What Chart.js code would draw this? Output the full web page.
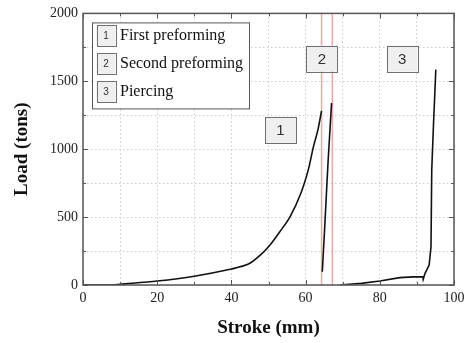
<!DOCTYPE html>
<html>
<head>
<meta charset="utf-8">
<script src="https://cdn.jsdelivr.net/npm/chart.js@4"></script>
<style>
  html, body { margin: 0; padding: 0; background: #fff; }
  #wrap { width: 464px; height: 343px; position: relative; }
</style>
</head>
<body>
<div id="wrap"><canvas id="loadChart"></canvas></div>
<script>
// Stroke (mm) / load (tons)
const firstX = [0, 8, 10, 20, 30, 40, 44.6, 48, 50.4, 53, 55.8, 58.7, 60.7, 62.1, 63.3, 64.3];
const firstY = [0, 0, 5, 29, 65, 118, 154, 225, 294, 390, 502, 674, 846, 1017, 1140, 1282];
const secondX = [64.5, 65.2, 66.0, 67.0];
const secondY = [98, 450, 880, 1340];
const piercingX = [69.3, 75, 80, 85.4, 89, 91.6, 91.7, 92.2, 93.3, 93.8, 94.0, 94.5, 95.1];
const piercingY = [0, 12, 29, 54, 60, 61, 42, 86, 147, 282, 846, 1200, 1586];

// red marker lines at stroke positions
const markerX = [64.3, 67.2];

// stage labels (number, stroke, load)
const stageNums = ['1', '2', '3'];
const stageX = [53.2, 64.4, 86];
const stageY = [1140, 1667, 1667];
const legendNames = ['First preforming', 'Second preforming', 'Piercing'];

const xTicks = [0, 20, 40, 60, 80, 100];
const yTicks = [0, 500, 1000, 1500, 2000];

const toPts = (xs, ys) => xs.map((x, i) => ({ x: x, y: ys[i] }));

const serif = '"Liberation Serif", "Times New Roman", serif';
const sans = '"Liberation Sans", Arial, sans-serif';

function drawTag(ctx, cx, cy, w, h, txt, size) {
    ctx.fillStyle = '#efefef';
    ctx.fillRect(cx - w / 2, cy - h / 2, w, h);
    ctx.strokeStyle = '#707070';
    ctx.lineWidth = 1;
    ctx.strokeRect(Math.round(cx - w / 2) + 0.5, Math.round(cy - h / 2) + 0.5, w, h);
    ctx.fillStyle = '#333';
    ctx.font = size + 'px ' + sans;
    ctx.textAlign = 'center';
    ctx.textBaseline = 'middle';
    ctx.fillText(txt, cx, cy + 1);
}

const extras = {
    id: 'extras',
    afterDatasetsDraw(chart) {
        const { ctx, chartArea: a, scales: { x, y } } = chart;
        ctx.save();
        // frame
        ctx.strokeStyle = '#555';
        ctx.lineWidth = 1.5;
        ctx.strokeRect(a.left, a.top, a.right - a.left, a.bottom - a.top);
        // inward ticks, major and minor
        ctx.lineWidth = 1;
        for (let v = 0; v <= 100; v += 10) {
            const px = Math.round(x.getPixelForValue(v)) + 0.5;
            const len = v % 20 === 0 ? 5 : 3;
            ctx.beginPath();
            ctx.moveTo(px, a.bottom); ctx.lineTo(px, a.bottom - len);
            ctx.moveTo(px, a.top); ctx.lineTo(px, a.top + len);
            ctx.stroke();
        }
        for (let v = 0; v <= 2000; v += 250) {
            const py = Math.round(y.getPixelForValue(v)) + 0.5;
            const len = v % 500 === 0 ? 5 : 3;
            ctx.beginPath();
            ctx.moveTo(a.left, py); ctx.lineTo(a.left + len, py);
            ctx.moveTo(a.right, py); ctx.lineTo(a.right - len, py);
            ctx.stroke();
        }
        // stage tags
        stageNums.forEach((n, i) => {
            drawTag(ctx, x.getPixelForValue(stageX[i]), y.getPixelForValue(stageY[i]), 31, 26, n, 15);
        });
        // legend box
        const lx = a.left + 9, ly = a.top + 9, lw = 157, lh = 86;
        ctx.fillStyle = '#fff';
        ctx.fillRect(lx, ly, lw, lh);
        ctx.strokeStyle = '#555';
        ctx.strokeRect(lx + 0.5, ly + 0.5, lw, lh);
        legendNames.forEach((name, i) => {
            const cy = ly + 13 + i * 28;
            drawTag(ctx, lx + 14, cy, 19, 21, stageNums[i], 10);
            ctx.fillStyle = '#111';
            ctx.font = '16px ' + serif;
            ctx.textAlign = 'left';
            ctx.textBaseline = 'middle';
            ctx.fillText(name, lx + 28, cy);
        });
        ctx.restore();
    }
};

const curveStyle = {
    borderColor: '#111',
    borderWidth: 1.6,
    pointRadius: 0,
    showLine: true,
    fill: false
};

const markerSets = markerX.map(v => ({
    data: [{ x: v, y: 0 }, { x: v, y: 2000 }],
    borderColor: 'rgba(240, 130, 130, 0.7)',
    borderWidth: 1.5,
    pointRadius: 0,
    showLine: true,
    order: 5
}));

new Chart(document.getElementById('loadChart'), {
    type: 'scatter',
    data: {
        datasets: [
            ...markerSets,
            { ...curveStyle, data: toPts(firstX, firstY), tension: 0.3, order: 1 },
            { ...curveStyle, data: toPts(secondX, secondY), tension: 0.3, order: 1 },
            { ...curveStyle, data: toPts(piercingX, piercingY), tension: 0, order: 1 }
        ]
    },
    options: {
        responsive: true,
        maintainAspectRatio: false,
        animation: false,
        events: [],
        layout: { padding: { left: 0, right: 0, top: 13, bottom: 0 } },
        plugins: { legend: { display: false }, tooltip: { enabled: false } },
        scales: {
            x: {
                type: 'linear',
                min: 0, max: 100,
                afterFit: s => { s.height = 58; s.paddingRight = 10; s.paddingLeft = 0; },
                afterBuildTicks: s => { s.ticks = []; for (let v = 0; v <= 100; v += 10) s.ticks.push({ value: v }); },
                grid: { color: '#cfcfcf', drawTicks: false },
                border: { display: false, dash: [1.5, 2.5] },
                ticks: {
                    padding: 5,
                    color: '#222',
                    font: { family: serif, size: 14 },
                    maxRotation: 0,
                    autoSkip: false,
                    callback: v => (xTicks.includes(v) ? String(v) : '')
                },
                title: {
                    display: true, text: 'Stroke (mm)', color: '#111',
                    font: { family: serif, size: 19, weight: 'bold' },
                    padding: { top: 0, bottom: 4 }
                }
            },
            y: {
                type: 'linear',
                min: 0, max: 2000,
                afterFit: s => { s.width = 83; },
                afterBuildTicks: s => { s.ticks = []; for (let v = 0; v <= 2000; v += 250) s.ticks.push({ value: v }); },
                grid: { color: '#cfcfcf', drawTicks: false },
                border: { display: false, dash: [1.5, 2.5] },
                ticks: {
                    padding: 5,
                    color: '#222',
                    font: { family: serif, size: 14 },
                    autoSkip: false,
                    callback: v => (yTicks.includes(v) ? String(v) : '')
                },
                title: {
                    display: true, text: 'Load (tons)', color: '#111',
                    font: { family: serif, size: 19, weight: 'bold' },
                    padding: { top: 11, bottom: 0 }
                }
            }
        }
    },
    plugins: [extras]
});
</script>
</body>
</html>
